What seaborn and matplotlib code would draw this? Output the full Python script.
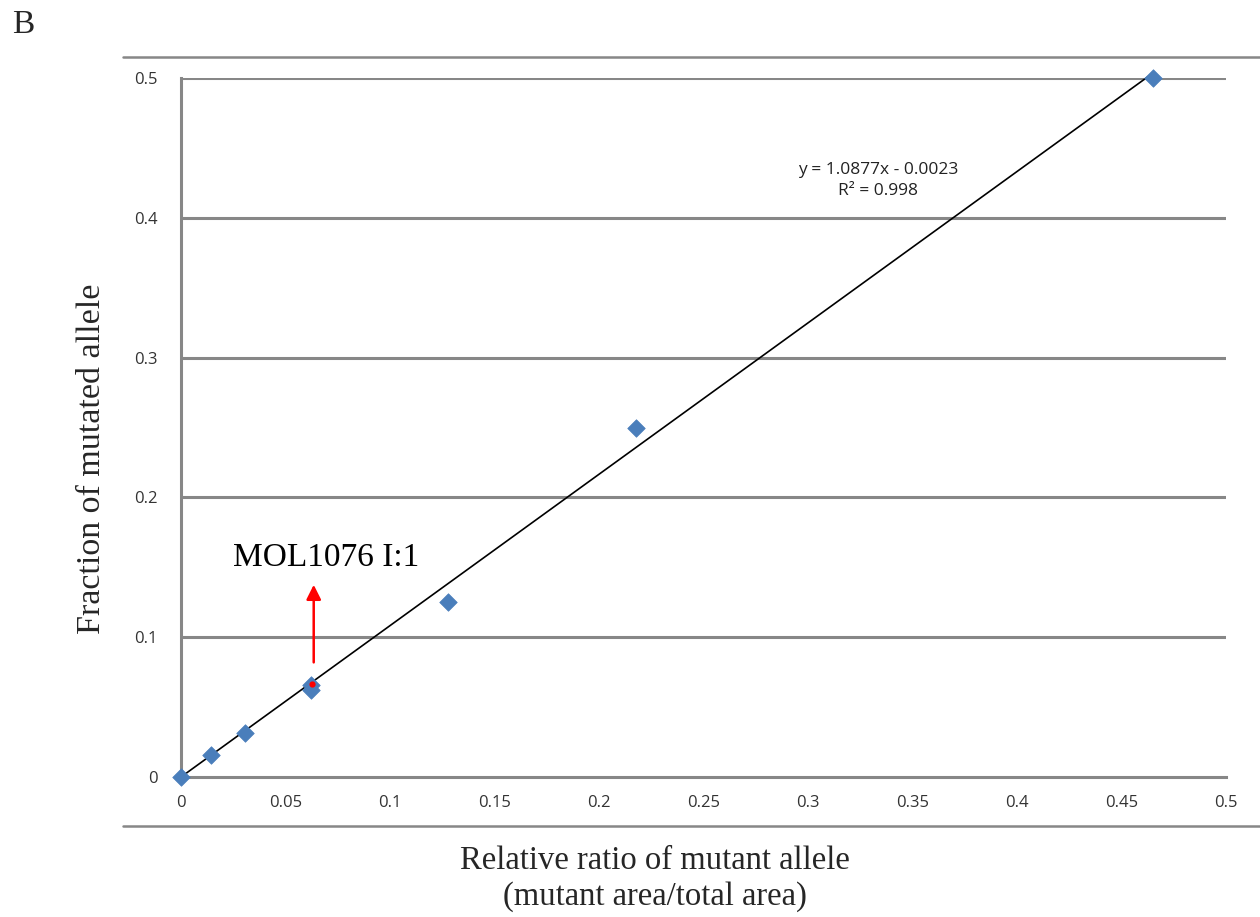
import numpy as np
import pandas as pd
import matplotlib
matplotlib.use('Agg')
import matplotlib.pyplot as plt
import seaborn as sns
from matplotlib.lines import Line2D

# data
ratio = [0.0, 0.0145, 0.0305, 0.0620, 0.0622, 0.1278, 0.2177, 0.4651]
fraction = [0.0, 0.015625, 0.03125, 0.0625, 0.0660, 0.125, 0.25, 0.5]
sample_x = [0.0625]
sample_y = [0.0665]
slope = 1.0877
intercept = -0.0023
x_ticks = [0, 0.05, 0.1, 0.15, 0.2, 0.25, 0.3, 0.35, 0.4, 0.45, 0.5]
y_ticks = [0, 0.1, 0.2, 0.3, 0.4, 0.5]

df = pd.DataFrame({'ratio': ratio, 'fraction': fraction})

sns.set_style('white')
plt.rcParams['font.family'] = ['Open Sans', 'DejaVu Sans']

fig = plt.figure(figsize=(12.6, 9.17), dpi=100)
ax = fig.add_axes([181/1260, 1 - 777/917, 1045/1260, 699/917])

grid_c = '#878787'
for yv in y_ticks[1:]:
    ax.axhline(yv, color=grid_c, lw=2.2, zorder=0)

# trend line (Excel draws it across the data range)
xl = np.array([0, max(ratio)])
yl = np.clip(slope * xl + intercept, 0, None)
ax.plot(xl, yl, color='black', lw=1.2, zorder=2, clip_on=False)

sns.scatterplot(data=df, x='ratio', y='fraction', marker='D', s=80,
                color='#4a7ebb', edgecolor='#4a7ebb', linewidth=0.5, ax=ax,
                zorder=3, clip_on=False)
ax.scatter(sample_x, sample_y, marker='o', s=12, color='red', zorder=4)

ax.set_xlim(0, 0.5)
ax.set_ylim(0, 0.5)
ax.set_xticks(x_ticks)
ax.set_yticks(y_ticks)
ax.set_xticklabels([('%g' % v) for v in x_ticks])
ax.set_yticklabels([('%g' % v) for v in y_ticks])
ax.tick_params(axis='both', labelsize=12, colors='#333333', length=6, width=2,
               direction='out', color=grid_c, pad=7)
ax.tick_params(axis='y', pad=11)
ax.set_xlabel('')
ax.set_ylabel('')
for s in ['top', 'right']:
    ax.spines[s].set_visible(False)
for s in ['left', 'bottom']:
    ax.spines[s].set_color(grid_c)
    ax.spines[s].set_linewidth(2.2)

# equation
ax.text(0.3335, 0.4265, 'y = 1.0877x - 0.0023\nR² = 0.998', ha='center', va='center',
        fontsize=12.5, color='#222222', linespacing=1.45)

# annotation
ax.annotate('', xy=(0.0635, 0.1395), xytext=(0.0635, 0.080),
            arrowprops=dict(arrowstyle='-|>', color='red', lw=1.8, mutation_scale=22))
ax.text(0.025, 0.157, 'MOL1076 I:1', ha='left', va='center', fontsize=24,
        family='Liberation Serif', color='black')

# frame lines of the chart area
fig.add_artist(Line2D([123/1260, 1], [1 - 57/917] * 2, color=grid_c, lw=1.8))
fig.add_artist(Line2D([123/1260, 1], [1 - 826/917] * 2, color=grid_c, lw=1.8))

fig.text(655/1260, 1 - 879/917, 'Relative ratio of mutant allele\n(mutant area/total area)',
         ha='center', va='center', fontsize=23.5, family='Liberation Serif', linespacing=1.2)
fig.text(92/1260, 1 - 459/917, 'Fraction of mutated allele', rotation=90,
         ha='center', va='center', fontsize=24.5, family='Liberation Serif')
fig.text(12/1260, 1 - 25/917, 'B', ha='left', va='center', fontsize=24,
         family='Liberation Serif')

fig.savefig('out.png', dpi=100, facecolor='white')
